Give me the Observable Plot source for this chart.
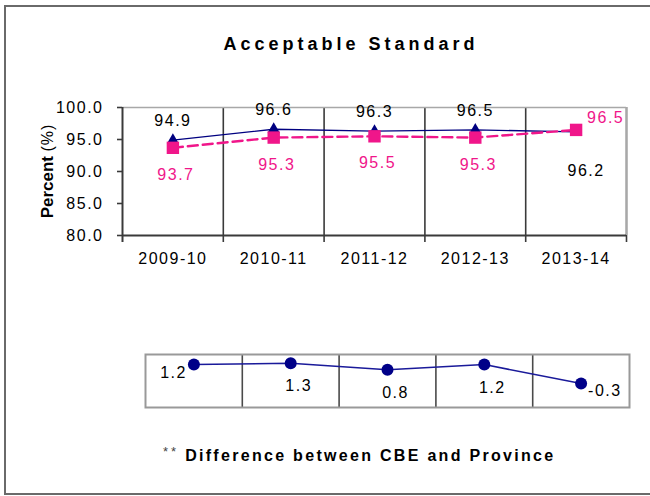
<!DOCTYPE html>
<html>
<head>
<meta charset="utf-8">
<script src="https://cdn.jsdelivr.net/npm/d3@7"></script>
<script src="https://cdn.jsdelivr.net/npm/@observablehq/plot@0.6"></script>
<style>
  html, body { margin: 0; padding: 0; background: #fff; overflow: hidden; }
  #root { position: relative; width: 650px; height: 496px; overflow: hidden; font-family: "Liberation Sans", Arial, sans-serif; }
  #frame { position: absolute; left: 4px; top: 5px; width: 700px; height: 490px; box-sizing: border-box; border: 2px solid #6a6a6a; }
  #title { position: absolute; left: 351px; top: 34px; transform: translateX(-50%); font-weight: bold; font-size: 18px; letter-spacing: 4px; white-space: nowrap; color: #000; }
  #ylabel { position: absolute; left: 48px; top: 171px; transform: translate(-50%, -50%) rotate(-90deg); white-space: nowrap; font-size: 16px; color: #000; }
  #caption { position: absolute; left: 163px; top: 444px; white-space: nowrap; color: #000; }
  .plot { position: absolute; left: 0; }
</style>
</head>
<body>
<div id="root">
  <div id="frame"></div>
  <div id="title">Acceptable Standard</div>
  <div id="ylabel"><b style="font-size:17px">Percent</b> <span style="letter-spacing:1px">(%)</span></div>
  <div id="topPanel" class="plot" style="top:0px"></div>
  <div id="bottomPanel" class="plot" style="top:330px"></div>
  <div id="caption"><span style="font-size:13px;color:#444;vertical-align:5px;letter-spacing:3px;margin-right:6px">**</span><b style="font-size:16px;letter-spacing:2.3px">Difference between CBE and Province</b></div>
</div>
<script>
const categories = ["2009-10", "2010-11", "2011-12", "2012-13", "2013-14"];
const cbe = [94.9, 96.6, 96.3, 96.5, 96.2];
const province = [93.7, 95.3, 95.5, 95.3, 96.5];
const difference = [1.2, 1.3, 0.8, 1.2, -0.3];
const yTicks = [80, 85, 90, 95, 100];

const rows = categories.map((c, i) => ({i, c, cbe: cbe[i], prov: province[i], diff: difference[i]}));
const n = categories.length;
const boundaries = d3.range(n + 1).map(k => k - 0.5);
const navy = "#000080";
const pink = "#f0168a";
const font = "'Liberation Sans', Arial, sans-serif";
const fs = 16;

const topChart = Plot.plot({
  width: 650, height: 280,
  marginLeft: 122, marginRight: 24, marginTop: 107, marginBottom: 45,
  style: {fontFamily: font, fontSize: fs + "px", background: "transparent", overflow: "visible", color: "#000"},
  x: {domain: [-0.5, n - 0.5], axis: null},
  y: {domain: [yTicks[0], yTicks[yTicks.length - 1]], axis: null},
  marks: [
    Plot.ruleX(boundaries.slice(1), {stroke: "#3a3a3a", strokeWidth: 1.6, insetBottom: -7}),
    Plot.ruleX(boundaries.slice(-1), {stroke: "#a8a8a8", strokeWidth: 1.6}),
    Plot.ruleY(yTicks.slice(-1), {stroke: "#a8a8a8", strokeWidth: 1.6}),
    Plot.ruleY(yTicks.slice(0, 1), {stroke: "#3a3a3a", strokeWidth: 2}),
    Plot.ruleX(boundaries.slice(0, 1), {stroke: "#3a3a3a", strokeWidth: 2, insetBottom: -7}),
    Plot.axisY({ticks: yTicks, tickFormat: d => d.toFixed(1), tickSize: 5, tickPadding: 14, label: null, stroke: "#3a3a3a", strokeWidth: 1.6, fontSize: fs}),
    Plot.axisX({ticks: d3.range(n), tickFormat: i => categories[i], tickSize: 0, tickPadding: 17, label: null, fontSize: fs}),
    Plot.line(rows, {x: "i", y: "cbe", stroke: navy, strokeWidth: 1.3}),
    Plot.dot(rows, {x: "i", y: "cbe", symbol: "triangle", r: 4.5, fill: navy, stroke: "none"}),
    Plot.line(rows, {x: "i", y: "prov", stroke: pink, strokeWidth: 2.4, strokeDasharray: "10,5"}),
    Plot.dot(rows, {x: "i", y: "prov", symbol: "square", r: 7, fill: pink, stroke: "none"}),
    Plot.text(rows.filter(d => d.cbe >= d.prov), {x: "i", y: "cbe", text: d => d.cbe.toFixed(1), dy: -19, fill: "#000", fontSize: fs}),
    Plot.text(rows.filter(d => d.cbe < d.prov), {x: "i", y: "cbe", text: d => d.cbe.toFixed(1), dy: 39, dx: 10, fill: "#000", fontSize: fs}),
    Plot.text(rows.filter(d => d.prov <= d.cbe), {x: "i", y: "prov", text: d => d.prov.toFixed(1), dy: 27, dx: 3, fill: pink, fontSize: fs}),
    Plot.text(rows.filter(d => d.prov > d.cbe), {x: "i", y: "prov", text: d => d.prov.toFixed(1), dy: -12, dx: 11, textAnchor: "start", fill: pink, fontSize: fs})
  ]
});
topChart.querySelectorAll("text").forEach(t => t.setAttribute("letter-spacing", "1.5"));
document.getElementById("topPanel").appendChild(topChart);

const bottomChart = Plot.plot({
  width: 650, height: 100,
  marginLeft: 145, marginRight: 21, marginTop: 24, marginBottom: 23,
  style: {fontFamily: font, fontSize: fs + "px", background: "transparent", overflow: "visible", color: "#000"},
  x: {domain: [-0.5, n - 0.5], axis: null},
  y: {domain: [-2.2, 2], axis: null},
  marks: [
    Plot.ruleX(boundaries.slice(1, -1), {stroke: "#4a4a4a", strokeWidth: 1.6}),
    Plot.frame({stroke: "#999", strokeWidth: 2}),
    Plot.line(rows, {x: "i", y: "diff", stroke: "#1a1a9a", strokeWidth: 1.5}),
    Plot.dot(rows, {x: "i", y: "diff", r: 6, fill: "#000088", stroke: "none"}),
    Plot.text(rows.slice(0, 1), {x: "i", y: "diff", text: d => d.diff.toFixed(1), dx: -7, dy: 8, textAnchor: "end", fill: "#000", fontSize: fs}),
    Plot.text(rows.slice(1, -1), {x: "i", y: "diff", text: d => d.diff.toFixed(1), dx: 8, dy: 23, fill: "#000", fontSize: fs}),
    Plot.text(rows.slice(-1), {x: "i", y: "diff", text: d => d.diff.toFixed(1), dx: 7, dy: 7, textAnchor: "start", fill: "#000", fontSize: fs})
  ]
});
bottomChart.querySelectorAll("text").forEach(t => t.setAttribute("letter-spacing", "1.5"));
document.getElementById("bottomPanel").appendChild(bottomChart);
</script>
</body>
</html>
